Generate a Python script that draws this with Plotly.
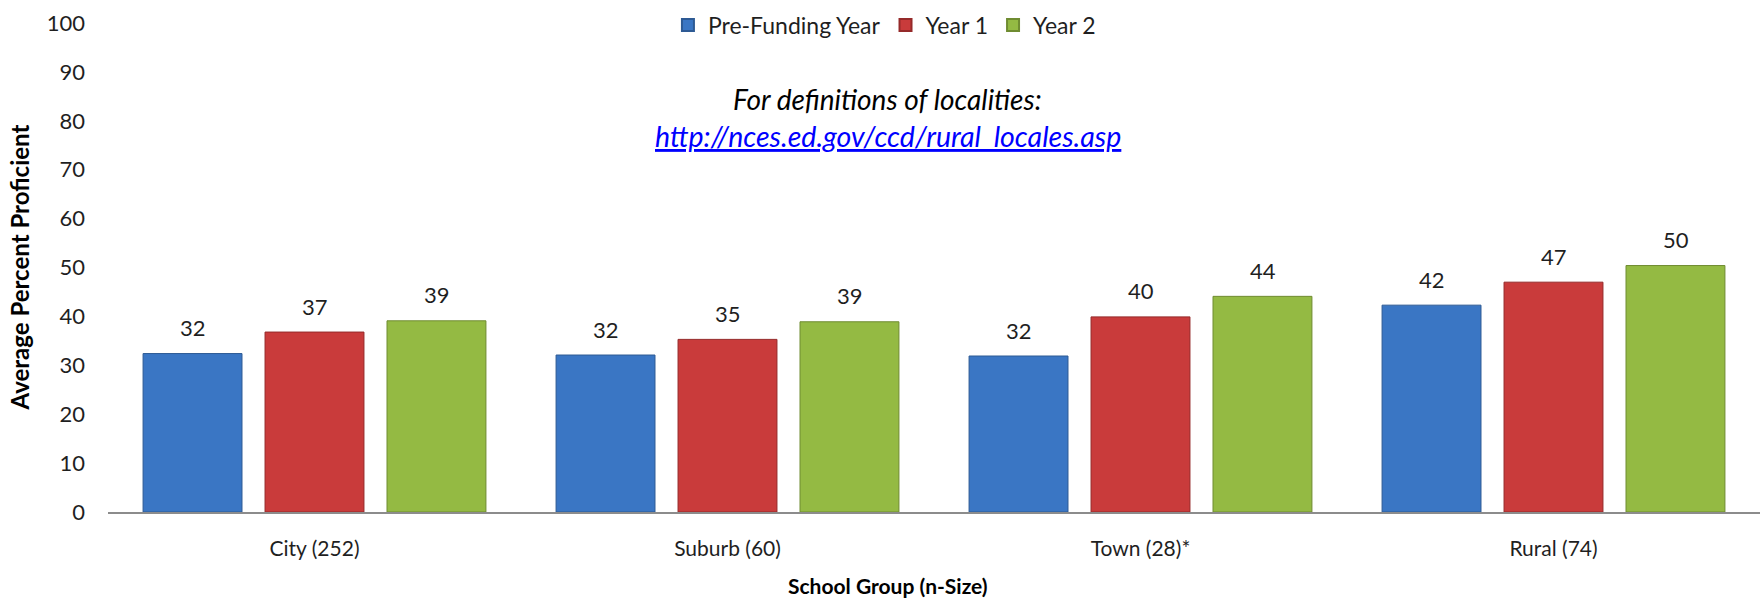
import plotly.graph_objects as go

categories = ["City (252)", "Suburb (60)", "Town (28)*", "Rural (74)"]
series_names = ["Pre-Funding Year", "Year 1", "Year 2"]
pre_funding = [32.4, 32.1, 31.9, 42.3]
year1 = [36.8, 35.3, 39.9, 47.0]
year2 = [39.1, 38.9, 44.1, 50.4]
y_ticks = list(range(0, 101, 10))

series_values = [pre_funding, year1, year2]
fill_colors = ["#3a76c4", "#c93b3b", "#94ba43"]
line_colors = ["#2d5a94", "#952a2a", "#6f8c31"]

FONT = "Lato, Carlito, Calibri, sans-serif"
TXT = "#1f1f1f"

fig = go.Figure()
for name, vals, fc, lc in zip(series_names, series_values, fill_colors, line_colors):
    fig.add_trace(go.Bar(
        name=name, x=categories, y=vals,
        marker=dict(color=fc, line=dict(color=lc, width=1)),
        hoverinfo="x+y+name",
    ))

annotations = []
slot_px = 122
for i, vals in enumerate(series_values):
    for cat, v in zip(categories, vals):
        annotations.append(dict(
            x=cat, y=v, xref="x", yref="y", text=f"{v:.0f}",
            showarrow=False, xshift=(i - 1) * slot_px, yshift=26,
            yanchor="middle", font=dict(family=FONT, size=22, color=TXT),
        ))

annotations += [
    dict(text="<i>For definitions of localities:</i>", xref="paper", yref="paper",
         x=0.472, y=0.845, showarrow=False, yanchor="middle",
         font=dict(family=FONT, size=28, color="#000000")),
    dict(text="<i><span style='text-decoration:underline'>http://nces.ed.gov/ccd/rural_locales.asp</span></i>",
         xref="paper", yref="paper", x=0.472, y=0.768, showarrow=False, yanchor="middle",
         font=dict(family=FONT, size=28.5, color="#0000ff")),
    dict(text="<b>Average Percent Proficient</b>", xref="paper", yref="paper",
         x=-0.0533, y=0.5, textangle=-90, showarrow=False,
         xanchor="center", yanchor="middle",
         font=dict(family=FONT, size=24, color="#000000")),
    dict(text="<b>School Group (n-Size)</b>", xref="paper", yref="paper",
         x=0.472, y=-0.1513, showarrow=False, xanchor="center", yanchor="middle",
         font=dict(family=FONT, size=21, color="#000000")),
]

fig.update_layout(
    width=1763, height=602,
    margin=dict(l=108, r=3, t=20, b=89.5),
    paper_bgcolor="white", plot_bgcolor="white",
    barmode="group", bargap=0.114, bargroupgap=0.189,
    font=dict(family=FONT, size=22, color=TXT),
    showlegend=True,
    legend=dict(orientation="h", x=0.47, xanchor="center", y=0.996, yanchor="middle",
                font=dict(family=FONT, size=23, color=TXT), bgcolor="rgba(0,0,0,0)",
                itemsizing="constant"),
    annotations=annotations,
    xaxis=dict(showline=True, linecolor="#8c8c8c", linewidth=1.5, showgrid=False,
               ticks="", ticklabelstandoff=17,
               tickfont=dict(family=FONT, size=21, color=TXT)),
    yaxis=dict(range=[0, 100], tickvals=y_ticks, showgrid=False, zeroline=False,
               showline=False, ticks="", ticklabelstandoff=22,
               tickfont=dict(family=FONT, size=22, color=TXT)),
)

fig.write_html("out.html", config={"displayModeBar": False},
               post_script="document.body.style.margin='0';")
